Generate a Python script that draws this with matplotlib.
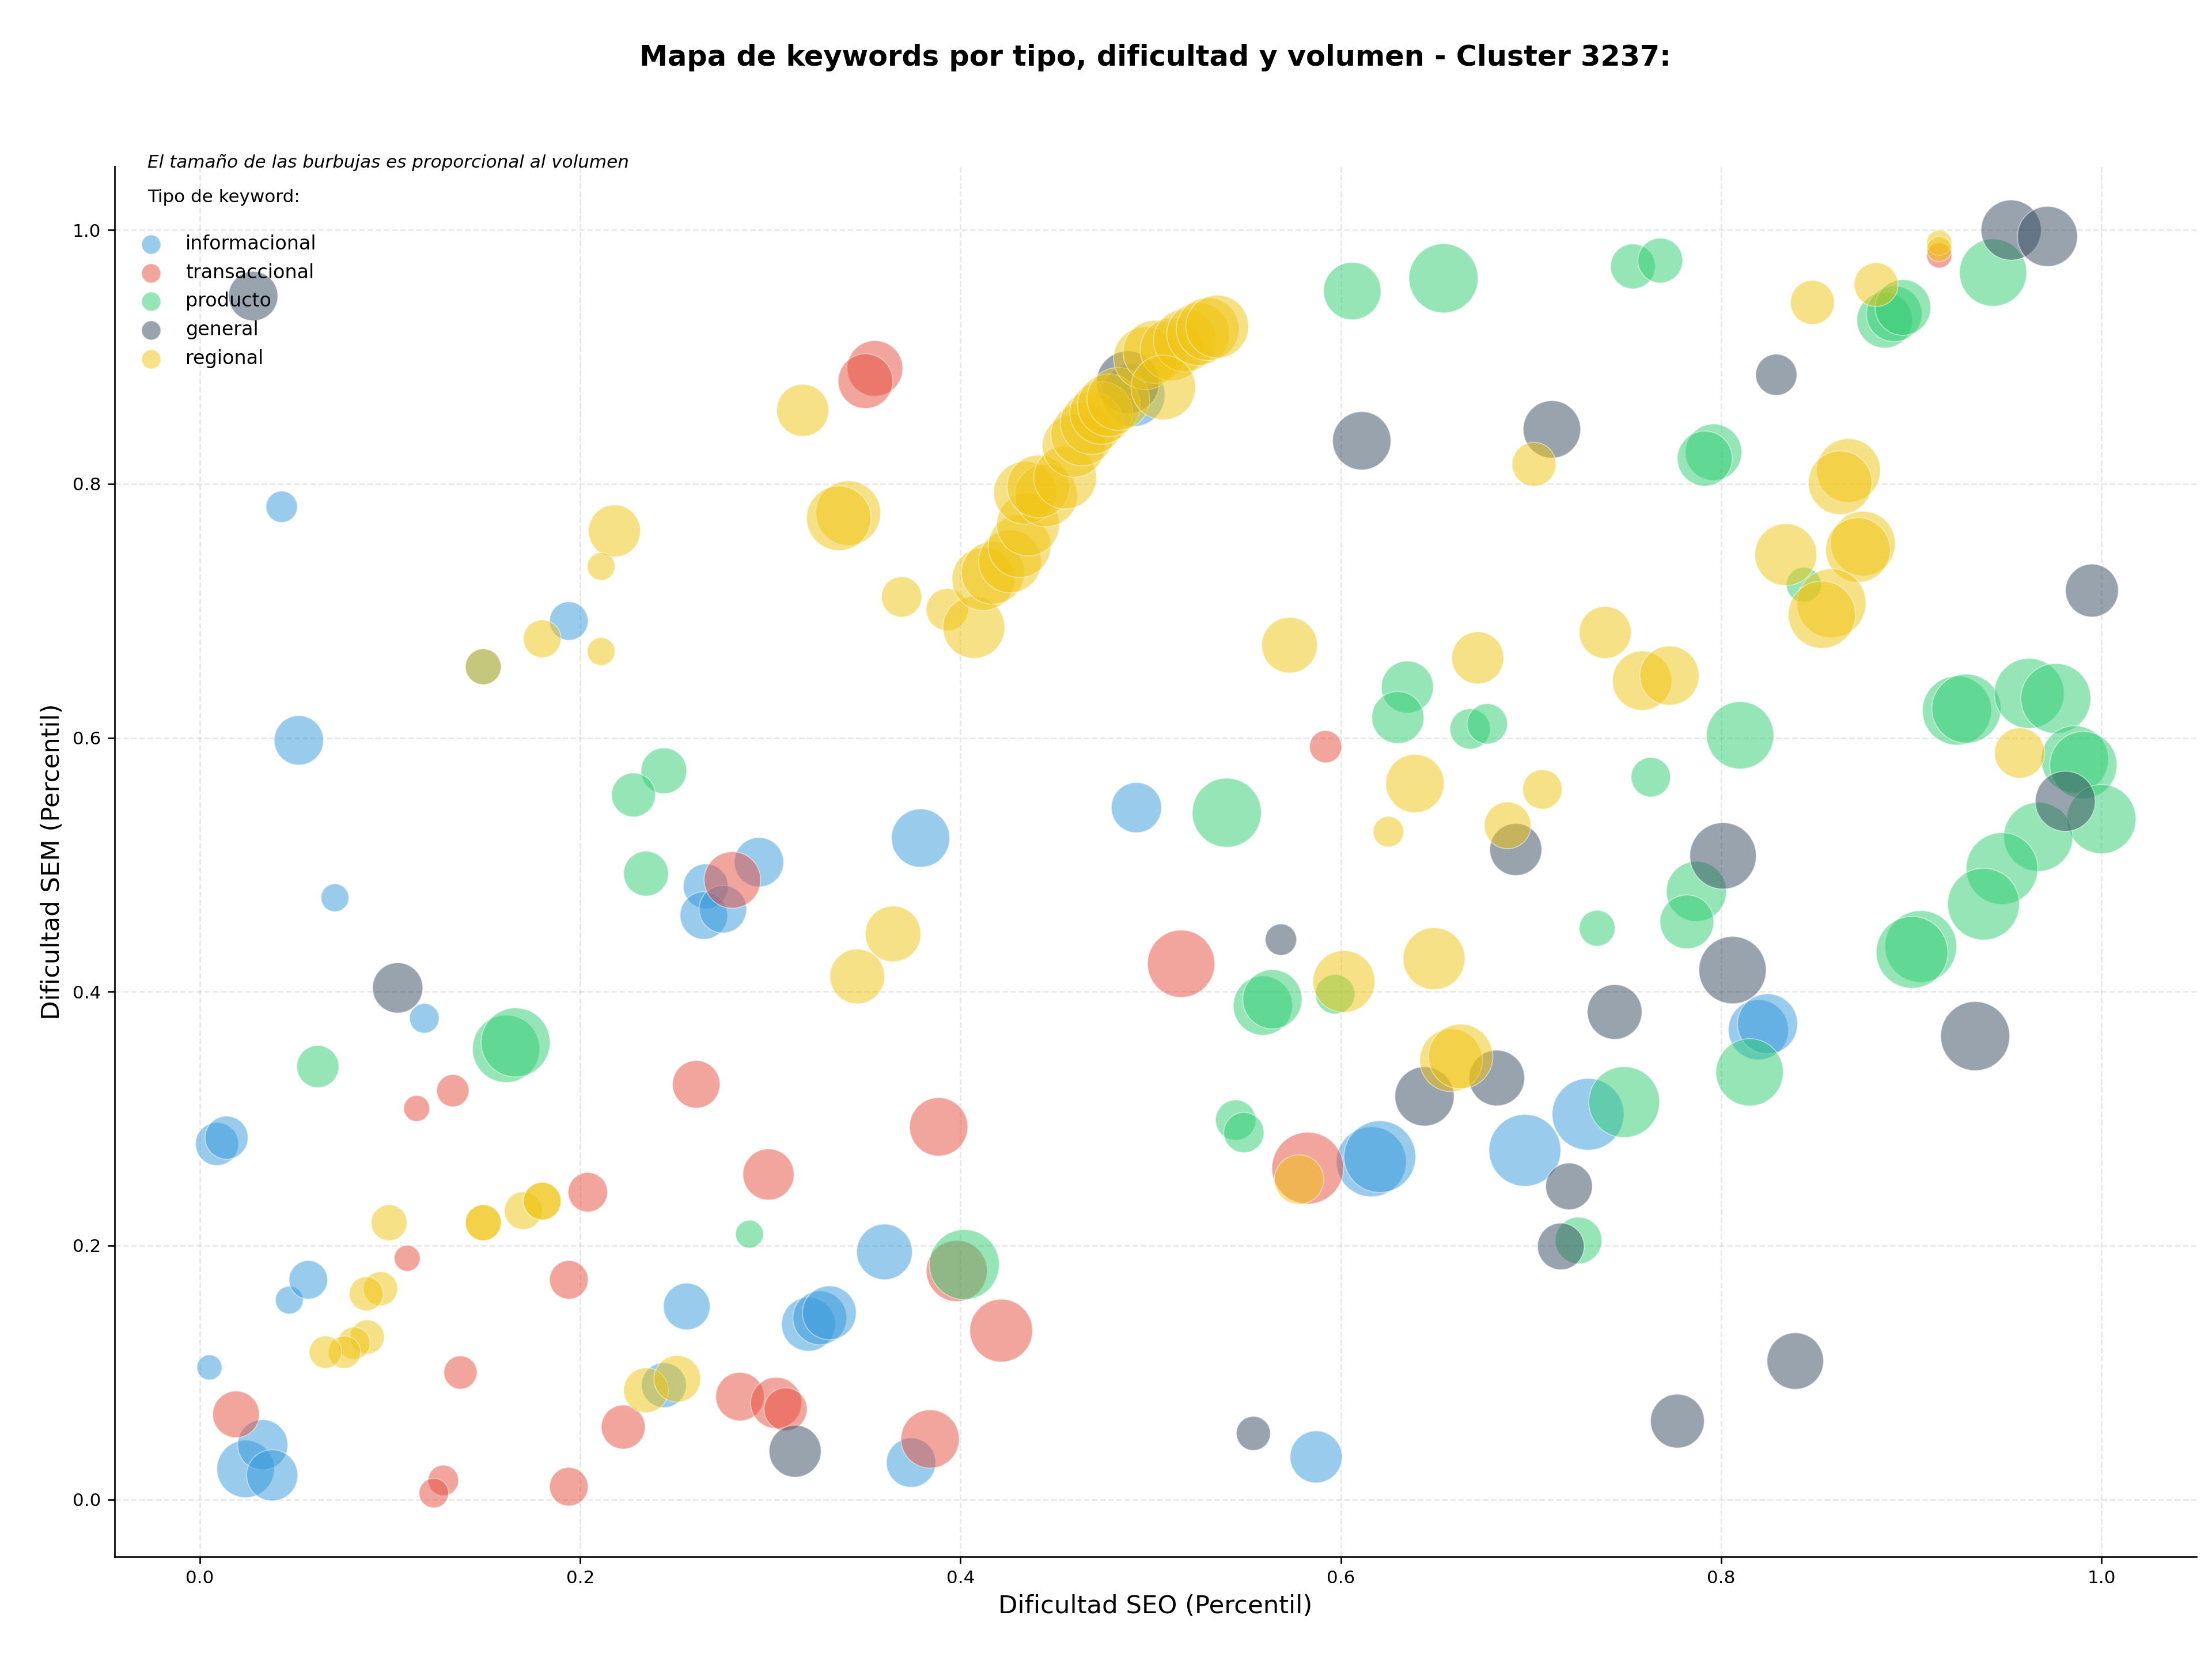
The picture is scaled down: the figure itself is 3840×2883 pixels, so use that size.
import matplotlib
matplotlib.use('Agg')
import matplotlib.pyplot as plt

# ---------------- data ----------------
tipos = ['informacional', 'transaccional', 'producto', 'general', 'regional']
colores = ['#3498db', '#e74c3c', '#2ecc71', '#34495e', '#f1c40f']

info_seo = [0.043, 0.052, 0.071, 0.194, 0.118, 0.009, 0.014, 0.005, 0.047, 0.057,
            0.024, 0.033, 0.038, 0.244, 0.256, 0.266, 0.294, 0.265, 0.275, 0.320,
            0.326, 0.331, 0.360, 0.374, 0.379, 0.4925, 0.491, 0.587, 0.616, 0.6205,
            0.6968, 0.730, 0.8196, 0.8244, 0.149]
info_sem = [0.782, 0.598, 0.474, 0.692, 0.379, 0.280, 0.285, 0.104, 0.157, 0.173,
            0.024, 0.043, 0.019, 0.090, 0.152, 0.483, 0.502, 0.460, 0.465, 0.138,
            0.143, 0.147, 0.195, 0.029, 0.521, 0.545, 0.870, 0.0335, 0.266, 0.270,
            0.275, 0.3034, 0.370, 0.3746, 0.656]
info_vol = [267, 660, 210, 403, 237, 502, 502, 171, 210, 403,
            893, 684, 708, 545, 590, 545, 660, 612, 612, 785,
            785, 785, 838, 660, 921, 684, 1068, 733, 1326, 1395,
            1395, 1395, 979, 979, 349]

trans_seo = [0.355, 0.350, 0.592, 0.280, 0.133, 0.114, 0.261, 0.299, 0.204, 0.109,
             0.194, 0.137, 0.019, 0.128, 0.123, 0.194, 0.2226, 0.284, 0.303, 0.308,
             0.516, 0.5826, 0.398, 0.4214, 0.384, 0.3885, 0.9147]
trans_sem = [0.891, 0.881, 0.593, 0.488, 0.322, 0.308, 0.327, 0.256, 0.242, 0.190,
             0.173, 0.100, 0.067, 0.015, 0.005, 0.010, 0.057, 0.081, 0.076, 0.071,
             0.422, 0.261, 0.180, 0.133, 0.0476, 0.2935, 0.980]
trans_vol = [838, 811, 282, 865, 282, 183, 612, 708, 422, 183,
             403, 298, 590, 252, 237, 403, 523, 636, 708, 502,
             1226, 1395, 1008, 1068, 921, 921, 171]

prod_seo = [0.606, 0.654, 0.244, 0.228, 0.2346, 0.062, 0.161, 0.166, 0.289, 0.635,
            0.630, 0.668, 0.677, 0.540, 0.559, 0.564, 0.597, 0.5447, 0.549, 0.402,
            0.7536, 0.768, 0.886, 0.891, 0.8956, 0.943, 0.796, 0.7914, 0.8435, 0.810,
            0.763, 0.924, 0.929, 0.962, 0.976, 0.986, 0.9905, 1.0, 0.9668, 0.9477,
            0.938, 0.905, 0.9004, 0.787, 0.782, 0.7348, 0.815, 0.749, 0.725]
prod_sem = [0.952, 0.962, 0.574, 0.555, 0.493, 0.341, 0.355, 0.360, 0.209, 0.640,
            0.616, 0.607, 0.611, 0.541, 0.389, 0.394, 0.398, 0.2988, 0.289, 0.185,
            0.9714, 0.976, 0.929, 0.934, 0.939, 0.9665, 0.825, 0.820, 0.7206, 0.602,
            0.569, 0.6215, 0.623, 0.635, 0.631, 0.583, 0.5785, 0.536, 0.522, 0.497,
            0.469, 0.4356, 0.431, 0.479, 0.455, 0.450, 0.3365, 0.313, 0.204]
prod_vol = [893, 1292, 567, 523, 545, 481, 1226, 1292, 210, 733,
            733, 441, 441, 1292, 950, 950, 422, 441, 441, 1326,
            545, 545, 838, 838, 838, 1226, 865, 820, 331, 1226,
            422, 1292, 1292, 1326, 1326, 1226, 1226, 1292, 1292, 1395,
            1395, 1395, 1395, 979, 785, 349, 1226, 1360, 590]

gen_seo = [0.028, 0.104, 0.313, 0.488, 0.611, 0.5685, 0.644, 0.682, 0.554,
           0.9525, 0.9716, 0.829, 0.711, 0.995, 0.981, 0.692, 0.801, 0.806, 0.744,
           0.720, 0.7157, 0.9336, 0.839, 0.777]
gen_sem = [0.948, 0.403, 0.038, 0.880, 0.834, 0.441, 0.3175, 0.332, 0.052,
           1.0, 0.995, 0.886, 0.843, 0.716, 0.550, 0.512, 0.507, 0.417, 0.384,
           0.2466, 0.1993, 0.365, 0.109, 0.0617]
gen_vol = [660, 684, 733, 1068, 921, 267, 950, 838, 315,
           979, 979, 461, 893, 759, 979, 733, 1194, 1226, 811,
           590, 590, 1292, 865, 785]

reg_seo = [0.317, 0.218, 0.211, 0.180, 0.211, 0.149, 0.341, 0.336, 0.369, 0.393,
           0.407, 0.412, 0.417, 0.426, 0.431, 0.4355, 0.434, 0.445, 0.441, 0.455,
           0.4595, 0.464, 0.469, 0.474, 0.478, 0.483, 0.497, 0.502, 0.511, 0.518,
           0.525, 0.530, 0.535, 0.5066, 0.573, 0.672, 0.639, 0.625, 0.0995, 0.149,
           0.149, 0.170, 0.180, 0.180, 0.095, 0.0875, 0.088, 0.081, 0.076, 0.066,
           0.2346, 0.251, 0.3645, 0.3457, 0.6016, 0.649, 0.658, 0.663, 0.578, 0.848,
           0.8815, 0.9147, 0.9147, 0.7016, 0.867, 0.8626, 0.834, 0.8746, 0.872, 0.858,
           0.853, 0.739, 0.7584, 0.7728, 0.957, 0.706, 0.6877]
reg_sem = [0.858, 0.763, 0.735, 0.678, 0.668, 0.656, 0.777, 0.773, 0.711, 0.701,
           0.687, 0.725, 0.730, 0.739, 0.751, 0.768, 0.793, 0.791, 0.798, 0.805,
           0.830, 0.839, 0.848, 0.856, 0.862, 0.867, 0.899, 0.904, 0.906, 0.913,
           0.918, 0.922, 0.924, 0.876, 0.673, 0.663, 0.564, 0.526, 0.218, 0.218,
           0.218, 0.2275, 0.235, 0.235, 0.166, 0.162, 0.128, 0.123, 0.116, 0.116,
           0.086, 0.095, 0.4455, 0.412, 0.408, 0.426, 0.346, 0.349, 0.252, 0.943,
           0.957, 0.990, 0.985, 0.8155, 0.8106, 0.801, 0.7443, 0.753, 0.748, 0.706,
           0.697, 0.683, 0.645, 0.649, 0.588, 0.5594, 0.531]
reg_vol = [733, 733, 210, 385, 210, 349, 1130, 1130, 441, 481,
           1038, 1068, 1068, 1068, 1068, 1068, 1068, 1068, 1068, 1068,
           1068, 1068, 1068, 1068, 1068, 1068, 1068, 1068, 1068, 1068,
           1068, 1068, 1068, 1130, 838, 733, 921, 252, 349, 349,
           349, 385, 385, 385, 315, 315, 315, 285, 285, 285,
           545, 590, 838, 811, 1038, 1038, 1068, 1130, 660, 523,
           523, 171, 171, 523, 1099, 1099, 1038, 1130, 1130, 1292,
           1226, 733, 950, 950, 684, 422, 590]

series = [
    (info_seo, info_sem, info_vol),
    (trans_seo, trans_sem, trans_vol),
    (prod_seo, prod_sem, prod_vol),
    (gen_seo, gen_sem, gen_vol),
    (reg_seo, reg_sem, reg_vol),
]

# ---------------- figure ----------------
fig = plt.figure(figsize=(16, 2883 / 240), dpi=240)
ax_pos = [0.0517, 0.0629, 0.9413, 0.8368]
ax = fig.add_axes(ax_pos)

for nombre, color, (xs, ys, vs) in zip(tipos, colores, series):
    ax.scatter(xs, ys, s=vs, c=color, alpha=0.5, edgecolors='white',
               linewidths=0.5, label=nombre)

ax.set_xlim(-0.045, 1.05)
ax.set_ylim(-0.045, 1.05)
ax.set_xticks([0.0, 0.2, 0.4, 0.6, 0.8, 1.0])
ax.set_yticks([0.0, 0.2, 0.4, 0.6, 0.8, 1.0])
ax.tick_params(labelsize=9.3)
ax.set_xlabel('Dificultad SEO (Percentil)', fontsize=13)
ax.set_ylabel('Dificultad SEM (Percentil)', fontsize=13)
ax.grid(True, linestyle='--', alpha=0.3)
ax.set_axisbelow(True)
for sp in ['top', 'right']:
    ax.spines[sp].set_visible(False)

leg = ax.legend(title='Tipo de keyword:\n', loc='upper left', frameon=False,
                fontsize=10, title_fontsize=9.3, bbox_to_anchor=(0.0, 0.9965))
for h in leg.legend_handles:
    h.set_sizes([100])

ax.text(0.016, 1.003, 'El tamaño de las burbujas es proporcional al volumen',
        transform=ax.transAxes, fontsize=9.3, style='italic', va='center', ha='left')

fig.text(ax_pos[0] + ax_pos[2] / 2, 1 - 100 / 2883,
         'Mapa de keywords por tipo, dificultad y volumen - Cluster 3237:',
         fontsize=14.8, fontweight='bold', ha='center', va='center')

fig.savefig('out.png', dpi=240)
